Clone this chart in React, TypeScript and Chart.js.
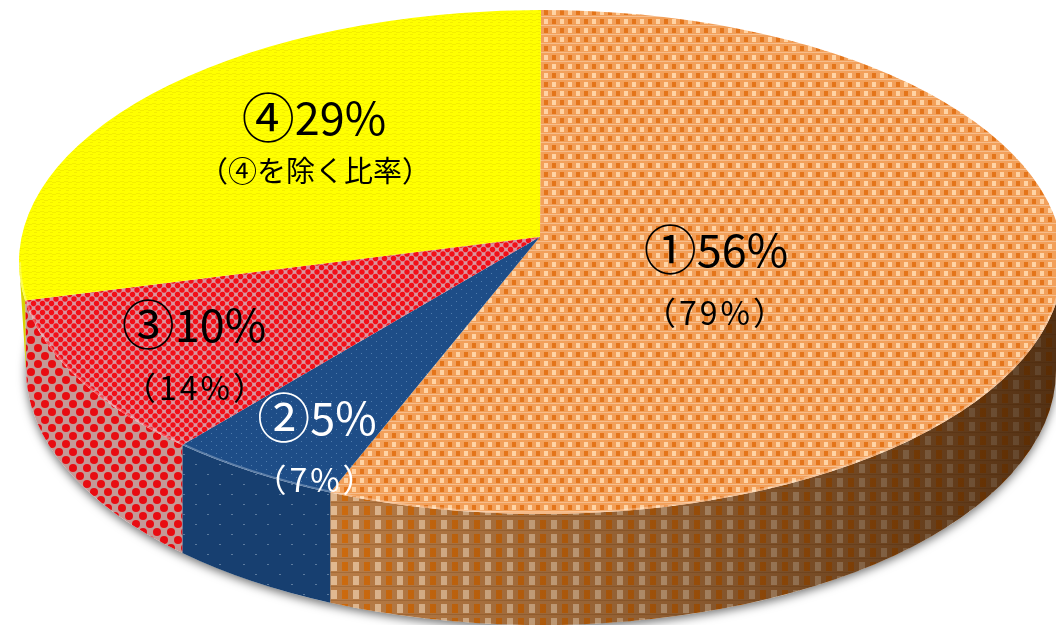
import React, { useEffect, useRef } from "react";
import { Chart, ArcElement, registerables } from "chart.js";

const marks: string[] = ["①", "②", "③", "④"];
const shares: number[] = [56, 5, 10, 29];
const notes: string[] = ["（79%）", "（7%）", "（14%）", "（④を除く比率）"];
const inkColors: string[] = ["#000000", "#ffffff", "#000000", "#000000"];

// Screen placement of the tilted disc: upper rim, lower rim and the projected hub.
const RIM = { cx: 541, cy: 262, rx: 522, ry: 252 };
const FOOT = { cx: 541, cy: 370, rx: 515, ry: 255 };
const HUB_TILT = -0.1;
const LABEL_SPOTS = [
  { x: 716, y: 250, noteX: 716, noteY: 313 },
  { x: 317, y: 418, noteX: 316, noteY: 480 },
  { x: 194, y: 325, noteX: 196, noteY: 388 },
  { x: 314, y: 118, noteX: 315, noteY: 171 },
];

type Painter = (c: CanvasRenderingContext2D, w: number, h: number) => void;

function makeTile(w: number, h: number, paint: Painter): CanvasPattern {
  const tile = document.createElement("canvas");
  tile.width = w;
  tile.height = h;
  const c = tile.getContext("2d") as CanvasRenderingContext2D;
  paint(c, w, h);
  return c.createPattern(tile, "repeat") as CanvasPattern;
}

function blocks(c: CanvasRenderingContext2D, color: string, list: number[][]) {
  c.fillStyle = color;
  list.forEach(([x, y, w, h]) => c.fillRect(x, y, w, h));
}

function dots(c: CanvasRenderingContext2D, color: string, r: number, list: number[][]) {
  c.fillStyle = color;
  list.forEach(([x, y]) => {
    c.beginPath();
    c.arc(x, y, r, 0, Math.PI * 2);
    c.fill();
  });
}

function topPatterns(): CanvasPattern[] {
  const orange = makeTile(16, 18, (c, w, h) => {
    c.fillStyle = "#f2a05a";
    c.fillRect(0, 0, w, h);
    blocks(c, "#ffd3a4", [[0, 1, 4, 5], [8, 10, 4, 5]]);
    blocks(c, "#e4751a", [[8, 1, 4, 5], [0, 10, 4, 5]]);
    blocks(c, "#f6bd8c", [[0, 7, 16, 1], [0, 16, 16, 1]]);
  });
  const navy = makeTile(10, 8, (c, w, h) => {
    c.fillStyle = "#1e4d87";
    c.fillRect(0, 0, w, h);
    blocks(c, "#4f7bab", [[1, 1, 1, 1], [6, 5, 1, 1]]);
  });
  const red = makeTile(9, 9, (c, w, h) => {
    c.fillStyle = "#d9959f";
    c.fillRect(0, 0, w, h);
    dots(c, "#f20f18", 2.7, [[2, 2], [6.5, 6.5], [-2.5, 6.5], [11, 2], [6.5, -2.5], [2, 11]]);
  });
  const yellow = makeTile(8, 6, (c, w, h) => {
    c.fillStyle = "#ffff00";
    c.fillRect(0, 0, w, h);
    blocks(c, "#f3ee00", [[0, 1, 4, 1], [4, 2, 4, 1], [2, 4, 3, 1]]);
  });
  return [orange, navy, red, yellow];
}

function wallPatterns(): CanvasPattern[] {
  const orange = makeTile(22, 14, (c, w, h) => {
    c.fillStyle = "#b87c46";
    c.fillRect(0, 0, w, h);
    blocks(c, "#e0b890", [[1, 2, 6, 9]]);
    blocks(c, "#cc6a0e", [[12, 2, 6, 9]]);
    blocks(c, "#a66c38", [[0, 12, 22, 1]]);
  });
  const navy = makeTile(24, 20, (c, w, h) => {
    c.fillStyle = "#173f70";
    c.fillRect(0, 0, w, h);
    blocks(c, "#5b7a9d", [[3, 4, 2, 1], [15, 14, 2, 1]]);
  });
  const red = makeTile(14, 16, (c, w, h) => {
    c.fillStyle = "#c49a97";
    c.fillRect(0, 0, w, h);
    dots(c, "#e80c12", 4, [[3, 4], [10, 12], [-4, 12], [17, 4], [10, -4], [3, 20], [-4, -4], [17, 20]]);
  });
  const yellow = makeTile(8, 6, (c, w, h) => {
    c.fillStyle = "#d8d400";
    c.fillRect(0, 0, w, h);
  });
  return [orange, navy, red, yellow];
}

// Perspective moves the hub away from the rim's centre, so equal angles spread unevenly.
function warpAngle(a: number): number {
  const x = Math.cos(a);
  const y = Math.sin(a);
  const d = 1 + HUB_TILT * y;
  const wy = (y + HUB_TILT) / d;
  const wx = (x * Math.sqrt(1 - HUB_TILT * HUB_TILT)) / d;
  let out = Math.atan2(wy, wx);
  while (out - a > Math.PI) out -= Math.PI * 2;
  while (out - a < -Math.PI) out += Math.PI * 2;
  return out;
}

function footAngle(rimAngle: number): number {
  const x = RIM.cx + RIM.rx * Math.cos(rimAngle);
  const t = Math.max(-1, Math.min(1, (x - FOOT.cx) / FOOT.rx));
  return Math.acos(t);
}

class PerspectiveArc extends ArcElement {
  static id = "perspectiveArc";

  draw(ctx: CanvasRenderingContext2D) {
    const { startAngle, endAngle } = this as any;
    const opts = (this as any).options;
    const a0 = warpAngle(startAngle);
    const a1 = warpAngle(endAngle);
    const w0 = Math.max(a0, 0);
    const w1 = Math.min(a1, Math.PI);

    ctx.save();
    if (w1 > w0) {
      // Outer wall, shaded darker toward the right.
      ctx.beginPath();
      ctx.ellipse(RIM.cx, RIM.cy, RIM.rx, RIM.ry, 0, w0, w1);
      ctx.ellipse(FOOT.cx, FOOT.cy, FOOT.rx, FOOT.ry, 0, footAngle(w1), footAngle(w0), true);
      ctx.closePath();
      ctx.fillStyle = opts.borderColor;
      ctx.fill();
      const shade = ctx.createLinearGradient(340, 0, 1056, 0);
      shade.addColorStop(0, "rgba(45,20,0,0)");
      shade.addColorStop(0.45, "rgba(45,20,0,0.3)");
      shade.addColorStop(1, "rgba(45,20,0,0.72)");
      ctx.fillStyle = shade;
      ctx.fill();
    }

    // Top face, from the projected hub out to the rim.
    const hubY = RIM.cy + HUB_TILT * RIM.ry;
    ctx.beginPath();
    ctx.moveTo(RIM.cx - 1, hubY);
    ctx.ellipse(RIM.cx, RIM.cy, RIM.rx, RIM.ry, 0, a0, a1);
    ctx.closePath();
    ctx.fillStyle = opts.backgroundColor;
    ctx.fill();

    if (w1 > w0) {
      // Bevel highlight along the front of the rim.
      ctx.beginPath();
      ctx.ellipse(RIM.cx, RIM.cy, RIM.rx - 1, RIM.ry - 1, 0, w0, w1);
      ctx.strokeStyle = "rgba(255,255,255,0.28)";
      ctx.lineWidth = 2;
      ctx.stroke();
    }
    ctx.restore();
  }
}

const castShadow = {
  id: "castShadow",
  beforeDatasetsDraw(chart: Chart) {
    const ctx = chart.ctx;
    ctx.save();
    ctx.shadowColor = "rgba(0,0,0,0.55)";
    ctx.shadowBlur = 10;
    ctx.shadowOffsetY = 3;
    ctx.shadowOffsetX = 0;
    ctx.fillStyle = "#ffffff";
    ctx.beginPath();
    ctx.ellipse(FOOT.cx, FOOT.cy, FOOT.rx, FOOT.ry, 0, 0, Math.PI * 2);
    ctx.fill();
    ctx.restore();
  },
};

const sliceLabels = {
  id: "sliceLabels",
  afterDatasetsDraw(chart: Chart) {
    const ctx = chart.ctx as any;
    const family = '"Noto Sans CJK JP", "Noto Sans", sans-serif';
    ctx.save();
    ctx.textBaseline = "middle";
    shares.forEach((share, i) => {
      const spot = LABEL_SPOTS[i];
      ctx.fillStyle = inkColors[i];

      // The circled numeral runs larger than the percentage beside it.
      const amount = `${share}%`;
      const markFont = `400 53px ${family}`;
      const amountFont = `400 45px ${family}`;
      ctx.font = markFont;
      const markWidth = ctx.measureText(marks[i]).width;
      ctx.font = amountFont;
      const amountWidth = ctx.measureText(amount).width;
      const left = spot.x - (markWidth + amountWidth) / 2;
      ctx.textAlign = "left";
      ctx.font = markFont;
      ctx.fillText(marks[i], left, spot.y);
      ctx.font = amountFont;
      ctx.fillText(amount, left + markWidth, spot.y);

      ctx.textAlign = "center";
      ctx.letterSpacing = i === 3 ? "0px" : "3px";
      ctx.font = `400 ${i === 3 ? 29 : 32}px ${family}`;
      ctx.fillText(notes[i], spot.noteX, spot.noteY);
      ctx.letterSpacing = "0px";
    });
    ctx.restore();
  },
};

Chart.register(...registerables, PerspectiveArc as any);
(Chart.defaults as any).datasets.pie.dataElementType = "perspectiveArc";

export default function App() {
  const ref = useRef<HTMLCanvasElement>(null);

  useEffect(() => {
    const chart = new Chart(ref.current as HTMLCanvasElement, {
      type: "pie",
      data: {
        labels: marks,
        datasets: [
          {
            data: shares,
            backgroundColor: topPatterns(),
            borderColor: wallPatterns(),
            borderWidth: 0,
          },
        ],
      },
      options: {
        responsive: false,
        animation: false,
        events: [],
        plugins: { legend: { display: false }, tooltip: { enabled: false } },
      },
      plugins: [castShadow, sliceLabels],
    } as any);
    return () => chart.destroy();
  }, []);

  return (
    <canvas
      ref={ref}
      width={1056}
      height={625}
      style={{ position: "fixed", left: 0, top: 0, display: "block" }}
    />
  );
}
